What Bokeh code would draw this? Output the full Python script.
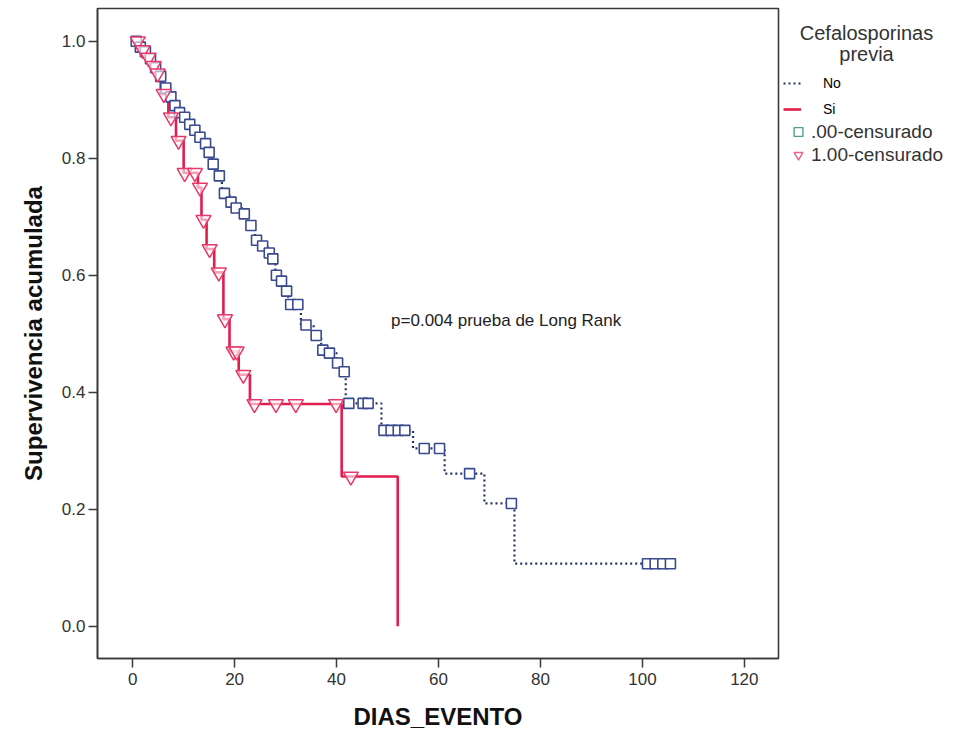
import numpy as np
from bokeh.plotting import figure
from bokeh.layouts import row
from bokeh.models import Range1d, Legend, LegendItem, Label, FixedTicker
from bokeh.embed import file_html
from bokeh.resources import INLINE

# ---------------- data ----------------
# Group "No" (no previous cephalosporins): step times and survival after each step
no_step_t = [0, 1, 2, 3, 4, 5, 6, 7, 8, 9, 10, 11, 12, 13, 14, 14.8, 15.5, 16.5, 17.5, 19, 20,
             21.5, 22.5, 24, 25, 26.5, 27, 28, 29, 30, 30.5, 33, 35.5, 37, 38.5, 40, 41,
             41.8, 48.8, 55, 61.2, 69, 74.9, 105.7]
no_step_s = [1.0, .99, .982, .97, .955, .94, .92, .905, .89, .878, .87, .858, .848, .836, .825,
             .81, .79, .77, .74, .725, .715, .705, .685, .66, .65, .638, .628, .60, .59, .573,
             .55, .515, .497, .472, .467, .45, .435, .381, .335, .304, .261, .21, .107, .107]
no_cens_t = [0.7, 1.5, 2.5, 3.5, 4.5, 5.5, 6.5, 7.5, 8.3, 9.2, 10.2, 11.2, 12.2, 13.2, 14.3,
             15.0, 15.8, 17.0, 18.0, 19.3, 20.3, 21.9, 23.2, 24.3, 25.5, 26.8, 27.5, 28.2,
             29.2, 30.2, 31.0, 32.4, 34.0, 36.0, 37.3, 38.6, 40.2, 41.5, 42.4, 45.2, 46.2,
             49.3, 50.7, 52.1, 53.4, 57.2, 60.2, 66.1, 74.3, 101.0, 102.5, 104.0, 105.5]

# Group "Si" (previous cephalosporins)
si_step_t = [0, 1.5, 2.5, 3.5, 4.5, 5.5, 7, 8.5, 10, 12.8, 13.5, 14.5, 16, 17.8, 19, 20.8, 23,
             41, 52]
si_step_s = [1.0, .985, .972, .958, .945, .91, .87, .83, .775, .75, .695, .645, .605, .525,
             .47, .43, .38, .256, 0.0]
si_cens_t = [1.0, 2.0, 3.1, 4.1, 4.9, 6.1, 7.5, 9.0, 10.2, 12.2, 13.2, 13.9, 15.1, 16.9, 18.1,
             19.8, 20.4, 21.7, 23.9, 28.1, 32.0, 39.9, 42.8]

x_ticks = [0, 20, 40, 60, 80, 100, 120]
y_ticks = [0.0, 0.2, 0.4, 0.6, 0.8, 1.0]

legend_title = ["Cefalosporinas", "previa"]
group_labels = ["No", "Si"]
cens_labels = [".00-censurado", "1.00-censurado"]
p_text = "p=0.004 prueba de Long Rank"


def level_at(step_t, step_s, t):
    idx = np.searchsorted(np.asarray(step_t), np.asarray(t), side="right") - 1
    return np.asarray(step_s)[idx]


no_cens_s = level_at(no_step_t, no_step_s, no_cens_t)
si_cens_s = level_at(si_step_t, si_step_s, si_cens_t)

FONT = "Liberation Sans"
BLUE_LINE = "#27335f"
BLUE_MARK = "#3a4a8e"
RED = "#e31c4e"
RED_MARK = "#e8386a"
H = 733
FR_TOP, FR_BOTTOM = 8, 658   # frame edges on the page (shared by both panels)

p = figure(width=780, height=H, output_backend="svg", toolbar_location=None,
           x_range=Range1d(-6.9, 126.7), y_range=Range1d(-0.055, 1.056),
           min_border_left=97, min_border_right=2, min_border_top=FR_TOP,
           min_border_bottom=H - FR_BOTTOM)

p.background_fill_color = "white"
p.border_fill_color = "white"
p.outline_line_color = "#3a3a3a"
p.outline_line_width = 1.6
p.xgrid.visible = False
p.ygrid.visible = False

p.step(no_step_t, no_step_s, mode="after", line_color=BLUE_LINE, line_width=2.2,
       line_dash="2 3")
p.step(si_step_t, si_step_s, mode="after", line_color=RED, line_width=2.6)

p.scatter(no_cens_t, no_cens_s, marker="square", size=10, fill_color="white",
          line_color=BLUE_MARK, line_width=1.6)
p.scatter(si_cens_t, si_cens_s, marker="inverted_triangle", size=15, fill_color="white",
          fill_alpha=0.6, line_color=RED_MARK, line_width=1.5)

for ax in (p.xaxis, p.yaxis):
    ax.axis_line_color = "#3a3a3a"
    ax.axis_line_width = 1.6
    ax.major_tick_line_color = "#3a3a3a"
    ax.major_tick_line_width = 1.5
    ax.major_tick_out = 9
    ax.major_tick_in = 0
    ax.minor_tick_out = 0
    ax.minor_tick_in = 0
    ax.major_label_text_font = FONT
    ax.major_label_text_font_size = "17px"
    ax.major_label_text_color = "#333333"
    ax.axis_label_text_font = FONT
    ax.axis_label_text_font_style = "bold"
    ax.axis_label_text_font_size = "24px"
    ax.axis_label_text_color = "#111111"

p.xaxis.ticker = FixedTicker(ticks=x_ticks)
p.yaxis.ticker = FixedTicker(ticks=y_ticks)
p.yaxis.major_label_overrides = {v: f"{v:.1f}" for v in y_ticks}
p.xaxis.major_label_standoff = 5
p.yaxis.major_label_standoff = 3
p.xaxis.axis_label = "DIAS_EVENTO"
p.yaxis.axis_label = "Supervivencia acumulada"
p.xaxis.axis_label_standoff = 15
p.yaxis.axis_label_standoff = 12

p.add_layout(Label(x=50.7, y=0.523, text=p_text, text_font=FONT, text_font_size="17px",
                   text_color="#222222", text_baseline="middle", text_align="left"))

# ---------------- legend panel (page pixel coordinates; frame aligned with main plot) ----
q = figure(width=180, height=H, output_backend="svg", toolbar_location=None,
           x_range=Range1d(780, 960), y_range=Range1d(FR_BOTTOM, FR_TOP),
           min_border_left=0, min_border_right=0, min_border_top=FR_TOP,
           min_border_bottom=H - FR_BOTTOM)
q.axis.visible = False
q.xgrid.visible = False
q.ygrid.visible = False
q.outline_line_color = None
q.background_fill_color = "white"
q.border_fill_color = "white"

q.add_layout(Label(x=866, y=32, text=legend_title[0], text_font=FONT, text_font_size="20px",
                   text_color="#333333", text_align="center", text_baseline="middle"))
q.add_layout(Label(x=866, y=53, text=legend_title[1], text_font=FONT, text_font_size="20px",
                   text_color="#333333", text_align="center", text_baseline="middle"))

# key glyphs for the legend: same series (they fall outside this panel's view)
g_no = q.step(no_step_t, no_step_s, mode="after", line_color=BLUE_LINE, line_width=2.2,
              line_dash="2 3")
g_si = q.step(si_step_t, si_step_s, mode="after", line_color=RED, line_width=2.6)
g_sq = q.scatter(no_cens_t, no_cens_s, marker="square", size=12, fill_color="white",
                 line_color="#4f9e8e", line_width=1.4)
g_tri = q.scatter(si_cens_t, si_cens_s, marker="inverted_triangle", size=13,
                  fill_color="white", line_color="#e8638a", line_width=1.4)

leg1 = Legend(items=[LegendItem(label=group_labels[0], renderers=[g_no]),
                     LegendItem(label=group_labels[1], renderers=[g_si])],
              location=(3, FR_BOTTOM - 117), glyph_width=18, glyph_height=16,
              label_height=16, spacing=10, label_standoff=22, padding=0, margin=0,
              label_text_font=FONT, label_text_font_size="14px", label_text_color="#000000",
              border_line_color=None, background_fill_alpha=0)
leg2 = Legend(items=[LegendItem(label=cens_labels[0], renderers=[g_sq]),
                     LegendItem(label=cens_labels[1], renderers=[g_tri])],
              location=(7, FR_BOTTOM - 166), glyph_width=22, glyph_height=23,
              label_height=23, spacing=0, label_standoff=2, padding=0, margin=0,
              label_text_font=FONT, label_text_font_size="19px", label_text_color="#333333",
              border_line_color=None, background_fill_alpha=0)
q.add_layout(leg1, "center")
q.add_layout(leg2, "center")

layout = row(p, q, spacing=0)
open("out.html", "w").write(file_html(layout, INLINE))
